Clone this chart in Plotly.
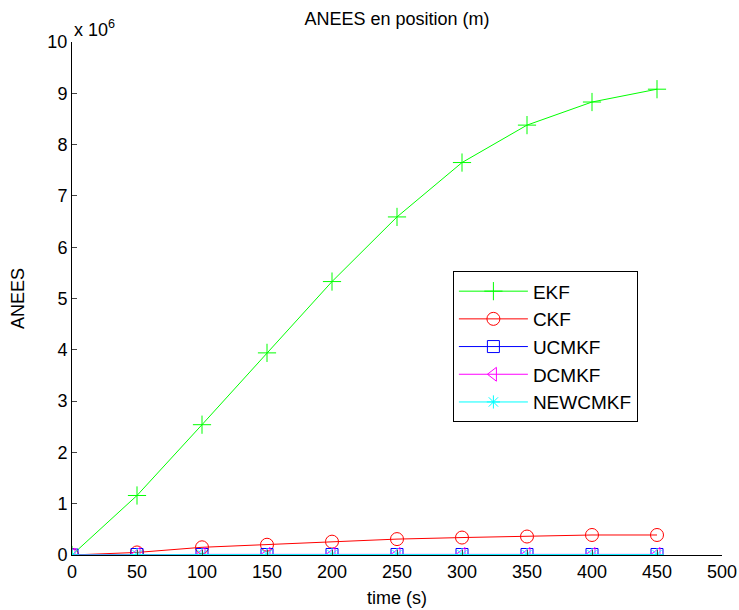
import plotly.graph_objects as go

time_s = [0, 50, 100, 150, 200, 250, 300, 350, 400, 450]
ekf = [0.0, 1.16e6, 2.54e6, 3.94e6, 5.33e6, 6.59e6, 7.65e6, 8.38e6, 8.83e6, 9.08e6]
ckf = [0.0, 0.05e6, 0.15e6, 0.20e6, 0.26e6, 0.31e6, 0.34e6, 0.36e6, 0.39e6, 0.39e6]
ucmkf = [0.0, 0.01e6, 0.01e6, 0.01e6, 0.01e6, 0.01e6, 0.01e6, 0.01e6, 0.01e6, 0.01e6]
dcmkf = [0.0, 0.012e6, 0.012e6, 0.012e6, 0.012e6, 0.012e6, 0.012e6, 0.012e6, 0.012e6, 0.012e6]
newcmkf = [0.0, 0.008e6, 0.008e6, 0.008e6, 0.008e6, 0.008e6, 0.008e6, 0.008e6, 0.008e6, 0.008e6]

y_ticks = list(range(0, 11))
x_ticks = [0, 50, 100, 150, 200, 250, 300, 350, 400, 450, 500]

series = [
    ("EKF", ekf, "#00ff00", "cross-thin-open", 13),
    ("CKF", ckf, "#ff0000", "circle-open", 13),
    ("UCMKF", ucmkf, "#0000ff", "square-open", 12),
    ("DCMKF", dcmkf, "#ff00ff", "triangle-left-open", 12),
    ("NEWCMKF", newcmkf, "#00ffff", "asterisk-open", 11),
]

fig = go.Figure()
for name, vals, color, sym, size in series:
    fig.add_trace(go.Scatter(
        x=time_s, y=vals, name=name, mode="lines+markers", legendgroup=name,
        line=dict(color=color, width=1),
        marker=dict(symbol=sym, size=size, color=color, line=dict(color=color, width=1)),
    ))

font = "Liberation Sans, Arial, sans-serif"
fig.update_layout(
    width=739, height=610,
    margin=dict(l=72, r=17, t=42, b=55),
    paper_bgcolor="white", plot_bgcolor="white",
    font=dict(family=font, size=18, color="black"),
    title=dict(text="ANEES en position (m)", x=0.5, xanchor="center",
               xref="paper", y=1 - 19 / 610, yanchor="middle",
               font=dict(size=18, family=font, color="black")),
    showlegend=True,
    legend=dict(x=0.586, y=0.553, xanchor="left", yanchor="top",
                bordercolor="black", borderwidth=1, bgcolor="white",
                font=dict(size=19), itemwidth=69, tracegroupgap=3,
                traceorder="normal"),
    xaxis=dict(range=[0, 500], tickvals=x_ticks, ticks="inside", ticklen=5,
               showline=True, linecolor="black", linewidth=1, mirror=False,
               showgrid=False, zeroline=False, tickfont=dict(size=18),
               automargin=False,
               title=dict(text="time (s)", font=dict(size=18), standoff=10)),
    yaxis=dict(range=[0, 1e7], tickvals=[v * 1e6 for v in y_ticks],
               ticktext=[str(v) for v in y_ticks], ticks="inside", ticklen=5,
               showline=True, linecolor="black", linewidth=1, mirror=False,
               showgrid=False, zeroline=False, tickfont=dict(size=18),
               automargin=False,
               title=dict(text="ANEES", font=dict(size=18), standoff=18)),
)
fig.add_annotation(text="x 10<sup>6</sup>", xref="paper", yref="paper", x=0, y=1.0,
                   xanchor="left", yanchor="bottom", showarrow=False,
                   font=dict(size=18, family=font), yshift=0)

fig.write_html("out.html")
